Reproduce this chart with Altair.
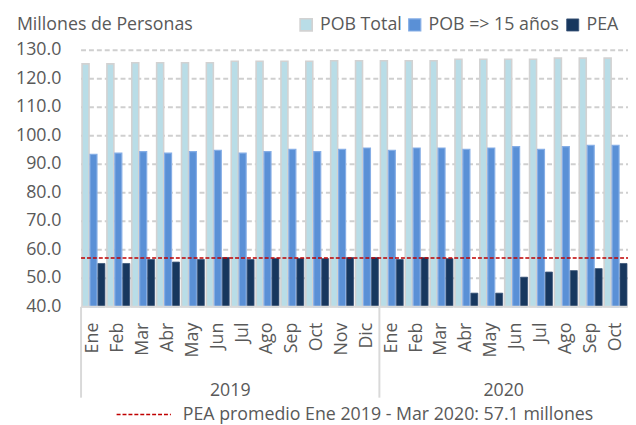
import altair as alt
import pandas as pd

# ---- data ----
meses = ["Ene", "Feb", "Mar", "Abr", "May", "Jun", "Jul", "Ago", "Sep", "Oct", "Nov", "Dic",
         "Ene", "Feb", "Mar", "Abr", "May", "Jun", "Jul", "Ago", "Sep", "Oct"]
anios = [2019] * 12 + [2020] * 10
pob_total = [125.2, 125.2, 125.6, 125.6, 125.6, 125.6, 126.1, 126.1, 126.1, 126.1, 126.3, 126.3,
             126.3, 126.3, 126.3, 126.8, 126.8, 126.8, 126.8, 127.2, 127.2, 127.2]
pob_15 = [93.5, 93.9, 94.4, 93.9, 94.4, 94.9, 93.9, 94.4, 95.2, 94.4, 95.2, 95.7,
          94.9, 95.7, 95.7, 95.2, 95.7, 96.2, 95.2, 96.2, 96.6, 96.6]
pea = [55.2, 55.2, 56.6, 55.7, 56.6, 57.3, 56.6, 57.0, 57.0, 56.9, 57.3, 57.3,
       56.6, 57.3, 56.9, 44.8, 44.8, 50.4, 52.2, 52.7, 53.4, 55.2]
pea_promedio = 57.1
series = ["POB Total", "POB => 15 años", "PEA"]
y_ticks = [40, 50, 60, 70, 80, 90, 100, 110, 120, 130]
unidad = "Millones de Personas"
nota = f"PEA promedio Ene 2019 - Mar 2020: {pea_promedio} millones"

# ---- styling ----
FONT = "Open Sans"
GREY = "#595959"
fills = ["#b9dde7", "#5a90d6", "#17375e"]
strokes = ["#d2d2d2", "#86aee6", "#3b5578"]
stroke_w = [1.6, 0.8, 0.8]

rows = []
for i, (m, a) in enumerate(zip(meses, anios)):
    for s, vals in zip(series, [pob_total, pob_15, pea]):
        rows.append({"idx": i, "mes": m, "anio": a, "serie": s, "valor": vals[i]})
df = pd.DataFrame(rows)
df_mes = pd.DataFrame({"idx": list(range(len(meses))), "mes": meses})
df_ticks = pd.DataFrame({"tick": y_ticks, "lbl": [f"{t:.1f}" for t in y_ticks],
                         "grid": [t > min(y_ticks) for t in y_ticks]})

n = len(meses)
years = []
for y in sorted(set(anios)):
    first = anios.index(y)
    cnt = anios.count(y)
    years.append({"anio": str(y), "centro": first + cnt / 2, "inicio": first})
df_years = pd.DataFrame(years)

x_ord = alt.X("idx:O", axis=None, scale=alt.Scale(paddingInner=0.08, paddingOuter=0.04))
y_scale = alt.Scale(domain=[40, 130], zero=False, nice=False)

legend = alt.Legend(
    title=None, orient="none", legendX=219, legendY=-35, direction="horizontal",
    symbolType="square", symbolSize=150, labelFontSize=18, labelFont=FONT,
    labelColor=GREY, labelOffset=5, columnPadding=4, symbolStrokeWidth=1.5,
)

ticks_base = alt.Chart(df_ticks)

tick_text = ticks_base.mark_text(
    align="right", baseline="middle", font=FONT, fontSize=18, color=GREY
).encode(y=alt.Y("tick:Q", scale=y_scale, axis=None), x=alt.value(-20), text="lbl:N")

grid = ticks_base.transform_filter("datum.grid").mark_rule(
    color="#cfcfcf", strokeDash=[5, 3], strokeWidth=2
).encode(
    y=alt.Y("tick:Q", scale=y_scale, axis=None),
    x=alt.value(0), x2=alt.value(554),
)

bars = alt.Chart(df).mark_bar().encode(
    x=x_ord,
    xOffset=alt.XOffset("serie:N", sort=series, scale=alt.Scale(domain=series, paddingInner=0.12, paddingOuter=0)),
    y=alt.Y("valor:Q", scale=y_scale, axis=None),
    y2=alt.datum(40),
    fill=alt.Fill("serie:N", sort=series, scale=alt.Scale(domain=series, range=fills), legend=legend),
    stroke=alt.Stroke("serie:N", sort=series, scale=alt.Scale(domain=series, range=strokes), legend=legend),
    strokeWidth=alt.StrokeWidth("serie:N", scale=alt.Scale(domain=series, range=stroke_w), legend=None),
)

avg = alt.Chart(pd.DataFrame({"prom": [pea_promedio]})).mark_rule(
    color="#c00000", strokeDash=[4, 2], strokeWidth=1.5
).encode(y=alt.Y("prom:Q", scale=y_scale, axis=None), x=alt.value(0), x2=alt.value(554))

base_line = alt.Chart(pd.DataFrame({"base": [40]})).mark_rule(
    color="#d9d9d9", strokeWidth=2
).encode(y=alt.Y("base:Q", scale=y_scale, axis=None), x=alt.value(0), x2=alt.value(554))

month_text = alt.Chart(df_mes).mark_text(
    angle=270, align="right", baseline="middle", font=FONT, fontSize=18, color=GREY
).encode(x=x_ord, y=alt.value(276), text="mes:N")

layer_a = alt.layer(grid, tick_text, bars, avg, base_line, month_text)

x_lin = alt.Scale(domain=[0, n], nice=False, zero=False)

year_text = alt.Chart(df_years).mark_text(
    align="center", baseline="middle", font=FONT, fontSize=18, color=GREY
).encode(x=alt.X("centro:Q", scale=x_lin, axis=None), y=alt.value(345), text="anio:N")

seps = alt.Chart(df_years).mark_rule(color="#d9d9d9", strokeWidth=2).encode(
    x=alt.X("inicio:Q", scale=x_lin, axis=None), y=alt.value(260), y2=alt.value(352)
)

leg_line = alt.Chart(pd.DataFrame({"t": [nota]})).mark_rule(
    color="#c00000", strokeDash=[4, 2], strokeWidth=1.5
).encode(x=alt.value(36), x2=alt.value(91), y=alt.value(369))

leg_text = alt.Chart(pd.DataFrame({"t": [nota]})).mark_text(
    align="left", baseline="alphabetic", font=FONT, fontSize=18, color=GREY
).encode(x=alt.value(103), y=alt.value(375), text="t:N")

unit_text = alt.Chart(pd.DataFrame({"t": [unidad]})).mark_text(
    align="left", baseline="alphabetic", font=FONT, fontSize=18, color=GREY
).encode(x=alt.value(-65), y=alt.value(-20), text="t:N")

layer_b = alt.layer(year_text, seps, leg_line, leg_text, unit_text)

chart = alt.layer(layer_a, layer_b).resolve_scale(x="independent").properties(
    width=554, height=260,
    autosize=alt.AutoSizeParams(type="none"),
    padding={"left": 74, "top": 40, "right": 0, "bottom": 117},
    background="white",
).configure_view(stroke=None)

chart.save("out.html", embed_options={"renderer": "svg", "actions": False})
